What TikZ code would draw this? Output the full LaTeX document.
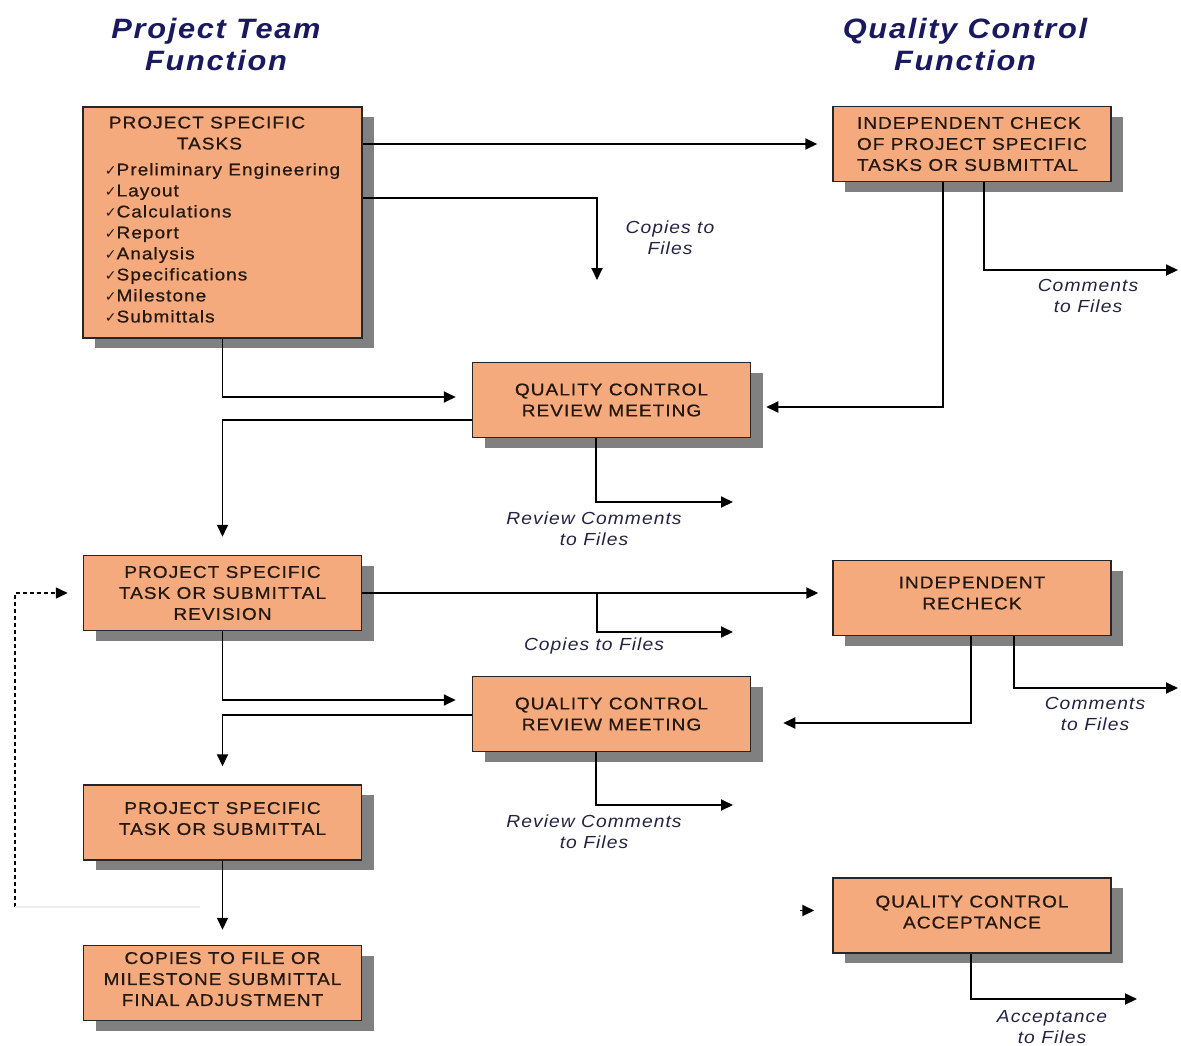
\documentclass[tikz,border=0pt]{standalone}
\usepackage{fontspec}
\setmainfont{Liberation Sans}
\newfontfamily\boxfont[FakeStretch=1.12,LetterSpace=6,FakeBold=0.6]{Liberation Sans}
\newfontfamily\notefont[FakeStretch=1.1,LetterSpace=6]{Liberation Sans}
\newfontfamily\titlefont[FakeStretch=1.1,LetterSpace=6]{Liberation Sans}
\newfontfamily\tickfont{DejaVu Sans}
\usetikzlibrary{arrows.meta,shadows,calc}
\definecolor{boxfill}{RGB}{245,170,125}
\definecolor{boxtext}{RGB}{35,24,18}
\definecolor{titleblue}{RGB}{25,25,95}
\definecolor{notecol}{RGB}{35,35,65}
\tikzset{
  taskbox/.style={draw=black!85, line width=1.5pt, fill=boxfill,
    minimum width=278pt, minimum height=75pt, inner sep=0pt, align=center,
    text=boxtext, font=\boxfont\fontsize{17}{21}\selectfont,
    drop shadow={shadow xshift=12pt, shadow yshift=-10pt, fill=black!50, opacity=1}},
  note/.style={align=center, text=notecol, font=\notefont\itshape\fontsize{17.5}{21}\selectfont},
  heading/.style={align=center, text=titleblue, font=\titlefont\bfseries\itshape\fontsize{28}{32}\selectfont},
  flow/.style={line width=1.9pt, ->},
  >={Triangle[length=12pt,width=11pt]}
}
\newcommand{\tick}{{\tickfont\fontsize{14}{21}\selectfont ✓}}
\begin{document}
\begin{tikzpicture}[x=1pt,y=-1pt]
	\useasboundingbox (0,0) rectangle (1181,1045);
	% column headings
	\node (teamtitle) [heading] at (216,44) {Project Team\\Function};
	\node (qctitle) [heading] at (965,44) {Quality Control\\Function};
	% boxes
	\node (tasks) [taskbox, minimum width=279pt, minimum height=231pt, align=left] at (222.5,222.5)
	{\hspace*{4pt}PROJECT SPECIFIC\\ \hspace*{72pt}TASKS\\[5pt]
	\tick Preliminary Engineering\\ \tick Layout\\ \tick Calculations\\ \tick Report\\
	\tick Analysis\\ \tick Specifications\\ \tick Milestone\\ \tick Submittals\\[-15pt]};
	\node (check) [taskbox, align=left] at (972,144) {INDEPENDENT CHECK\\OF PROJECT SPECIFIC\\TASKS OR SUBMITTAL};
	\node (meetA) [taskbox] at (611.5,400) {QUALITY CONTROL\\REVIEW MEETING};
	\node (revision) [taskbox] at (222.5,593) {PROJECT SPECIFIC\\TASK OR SUBMITTAL\\REVISION};
	\node (recheck) [taskbox] at (972,598) {INDEPENDENT\\RECHECK\\[-11pt]};
	\node (meetB) [taskbox] at (611.5,714) {QUALITY CONTROL\\REVIEW MEETING};
	\node (submittal) [taskbox] at (222.5,822.5) {PROJECT SPECIFIC\\TASK OR SUBMITTAL\\[-13pt]};
	\node (milestone) [taskbox] at (222.5,983) {COPIES TO FILE OR\\MILESTONE SUBMITTAL\\FINAL ADJUSTMENT\\[-13pt]};
	\node (accept) [taskbox] at (972,915.5) {QUALITY CONTROL\\ACCEPTANCE\\[-14pt]};
	% free ends
	\coordinate (copyA) at (597,280);
	\coordinate (cmtA) at (1178,270);
	\coordinate (rvwA) at (733,502);
	\coordinate (copyB) at (733,632);
	\coordinate (cmtB) at (1178,688);
	\coordinate (rvwB) at (733,805);
	\coordinate (accfile) at (1137,999);
	\coordinate (loop) at (15,907);
	% connectors
	\draw [flow, shorten >=15pt] (tasks.east |- check.west) -- (check.west);
	\draw [flow] ($(tasks.north east)+(0,92)$) -| (copyA);
	\draw [flow] ($(check.south west)+(111,0)$) |- ($(meetA.east)+(15,7)$);
	\draw [flow] ($(check.south west)+(152,0)$) |- (cmtA);
	\draw [flow] (tasks.south) |- ($(meetA.west)+(-16,-3)$);
	\draw [flow] ($(meetA.west)+(0,20)$) -| ($(revision.north)+(0,-18)$);
	\draw [flow] ($(meetA.south west)+(124,0)$) |- (rvwA);
	\draw [flow, shorten >=14pt] (revision.east) -- (revision.east -| recheck.west);
	\draw [flow] ($(revision.east)+(235,0)$) |- (copyB);
	\draw [flow, line width=1.6pt, dash pattern=on 4pt off 3pt] (loop) |- ($(revision.west)+(-15,0)$);
	\draw [black!7, line width=1.5pt] (loop) -- +(185,0);
	\draw [flow] ($(recheck.south west)+(139,0)$) |- ($(meetB.east)+(32,9)$);
	\draw [flow] ($(recheck.south west)+(182,0)$) |- (cmtB);
	\draw [flow] (revision.south) |- ($(meetB.west)+(-16,-14)$);
	\draw [flow] ($(meetB.west)+(0,1)$) -| ($(submittal.north)+(0,-18)$);
	\draw [flow] ($(meetB.south west)+(124,0)$) |- (rvwB);
	\draw [flow] (submittal.south) -- ($(milestone.north)+(0,-15)$);
	\draw [flow] ($(accept.south west)+(139,0)$) |- (accfile);
	\draw [flow] ($(accept.west)+(-32,-5)$) -- ($(accept.west)+(-18,-5)$);
	% file notes
	\node (copiesA) [note] at (670,238) {Copies to\\Files};
	\node (commentsA) [note] at (1088,296) {Comments\\to Files};
	\node (reviewA) [note] at (594,529) {Review Comments\\to Files};
	\node (copiesB) [note] at (594,646) {Copies to Files};
	\node (commentsB) [note] at (1095,714) {Comments\\to Files};
	\node (reviewB) [note] at (594,832) {Review Comments\\to Files};
	\node (acceptfile) [note] at (1052,1027) {Acceptance\\to Files};
\end{tikzpicture}
\end{document}
